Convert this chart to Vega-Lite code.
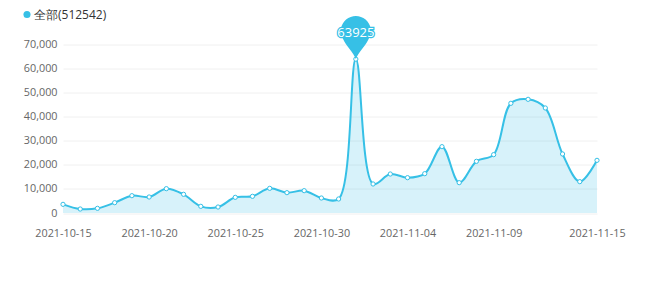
{
  "$schema": "https://vega.github.io/schema/vega-lite/v6.json",
  "autosize": {"type": "none"},
  "width": 534,
  "height": 168.5,
  "padding": {"left": 63, "top": 44.5, "right": 53, "bottom": 71},
  "background": "#ffffff",
  "config": {
    "view": {"stroke": null},
    "font": "Open Sans",
    "axis": {"labelFont": "Open Sans", "labelColor": "#666666", "labelFontSize": 10.8}
  },
  "data": {
    "values": [
      {"date": "2021-10-15", "value": 3600},
      {"date": "2021-10-16", "value": 1660},
      {"date": "2021-10-17", "value": 1940},
      {"date": "2021-10-18", "value": 4290},
      {"date": "2021-10-19", "value": 7200},
      {"date": "2021-10-20", "value": 6650},
      {"date": "2021-10-21", "value": 10110},
      {"date": "2021-10-22", "value": 7760},
      {"date": "2021-10-23", "value": 2770},
      {"date": "2021-10-24", "value": 2490},
      {"date": "2021-10-25", "value": 6510},
      {"date": "2021-10-26", "value": 6930},
      {"date": "2021-10-27", "value": 10250},
      {"date": "2021-10-28", "value": 8450},
      {"date": "2021-10-29", "value": 9280},
      {"date": "2021-10-30", "value": 6230},
      {"date": "2021-10-31", "value": 5820},
      {"date": "2021-11-01", "value": 63925},
      {"date": "2021-11-02", "value": 12050},
      {"date": "2021-11-03", "value": 16200},
      {"date": "2021-11-04", "value": 14680},
      {"date": "2021-11-05", "value": 16340},
      {"date": "2021-11-06", "value": 27560},
      {"date": "2021-11-07", "value": 12600},
      {"date": "2021-11-08", "value": 21470},
      {"date": "2021-11-09", "value": 24240},
      {"date": "2021-11-10", "value": 45570},
      {"date": "2021-11-11", "value": 47230},
      {"date": "2021-11-12", "value": 43630},
      {"date": "2021-11-13", "value": 24520},
      {"date": "2021-11-14", "value": 13020},
      {"date": "2021-11-15", "value": 21880}
    ]
  },
  "transform": [
    {"calculate": "'全部(512542)'", "as": "series"}
  ],
  "encoding": {
    "x": {
      "field": "date",
      "type": "temporal",
      "scale": {"type": "utc", "domain": [{"year": 2021, "month": 10, "date": 15, "utc": true}, {"year": 2021, "month": 11, "date": 15, "utc": true}]},
      "axis": {
        "title": null,
        "labelExpr": "utcFormat(datum.value, '%Y-%m-%d')",
        "values": [
          {"year": 2021, "month": 10, "date": 15, "utc": true},
          {"year": 2021, "month": 10, "date": 20, "utc": true},
          {"year": 2021, "month": 10, "date": 25, "utc": true},
          {"year": 2021, "month": 10, "date": 30, "utc": true},
          {"year": 2021, "month": 11, "date": 4, "utc": true},
          {"year": 2021, "month": 11, "date": 9, "utc": true},
          {"year": 2021, "month": 11, "date": 15, "utc": true}
        ],
        "domain": false,
        "ticks": false,
        "grid": false,
        "labelPadding": 14,
        "labelFlush": false,
        "labelOverlap": false
      }
    },
    "y": {
      "field": "value",
      "type": "quantitative",
      "scale": {"domain": [0, 70000], "nice": false},
      "axis": {
        "title": null,
        "values": [0, 10000, 20000, 30000, 40000, 50000, 60000, 70000],
        "labelExpr": "format(datum.value, ',d')",
        "domain": false,
        "ticks": false,
        "labelPadding": 6,
        "gridColor": "#f0f0f0",
        "gridWidth": 1
      }
    }
  },
  "layer": [
    {
      "mark": {"type": "area", "interpolate": "catmull-rom", "color": "#36c0e6", "opacity": 0.2}
    },
    {
      "mark": {"type": "line", "interpolate": "catmull-rom", "strokeWidth": 2},
      "encoding": {
        "color": {
          "field": "series",
          "type": "nominal",
          "scale": {"range": ["#36c0e6"]},
          "legend": {
            "title": null,
            "orient": "none",
            "legendX": -42,
            "legendY": -36,
            "padding": 0,
            "symbolType": "circle",
            "symbolSize": 50,
            "symbolFillColor": "#36c0e6",
            "symbolStrokeWidth": 0,
            "labelFontSize": 12,
            "labelColor": "#333333",
            "labelFont": "Open Sans",
            "labelOffset": 1
          }
        }
      }
    },
    {
      "mark": {"type": "point", "filled": true, "fill": "#ffffff", "stroke": "#36c0e6", "strokeWidth": 1, "size": 18, "opacity": 1}
    },
    {
      "transform": [
        {"joinaggregate": [{"op": "max", "field": "value", "as": "maxv"}]},
        {"filter": "datum.value === datum.maxv"}
      ],
      "layer": [
        {
          "mark": {
            "type": "point",
            "shape": "M0,0 C-0.1,-0.3 -0.45,-0.6 -0.6,-0.95 A0.7,0.7 0 1 1 0.6,-0.95 C0.45,-0.6 0.1,-0.3 0,0 Z",
            "size": 1849,
            "filled": true,
            "fill": "#36c0e6",
            "opacity": 1,
            "strokeWidth": 0
          }
        },
        {
          "mark": {"type": "text", "fontSize": 13, "dy": -26, "fill": "#36c0e6", "stroke": "#36c0e6", "strokeWidth": 2.5, "font": "Open Sans"},
          "encoding": {"text": {"field": "value", "type": "quantitative", "format": "d"}}
        },
        {
          "mark": {"type": "text", "fontSize": 13, "dy": -26, "fill": "#ffffff", "font": "Open Sans"},
          "encoding": {"text": {"field": "value", "type": "quantitative", "format": "d"}}
        }
      ]
    }
  ]
}
